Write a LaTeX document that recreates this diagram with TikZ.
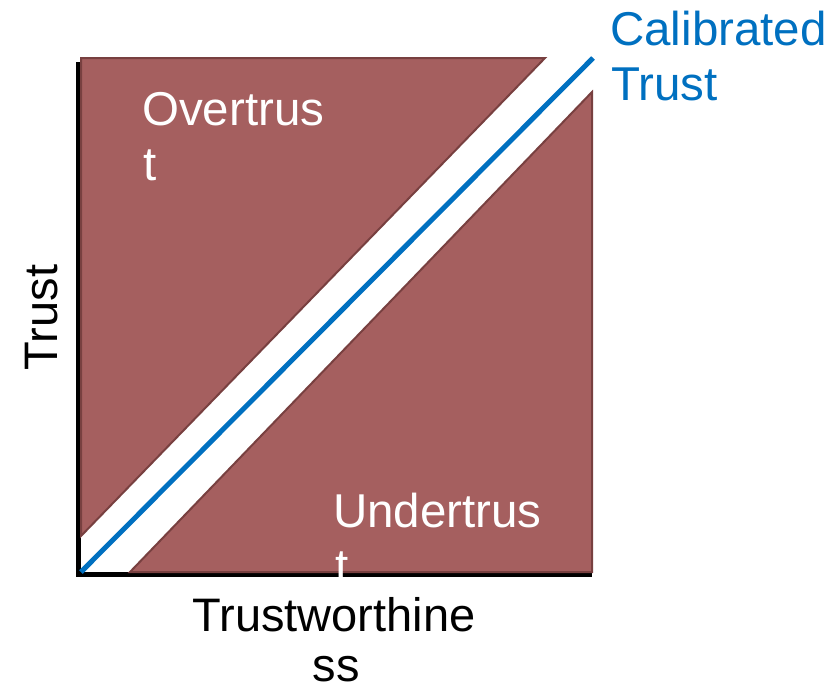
\documentclass[tikz,border=0pt]{standalone}
\usepackage{fontspec}
\setmainfont{Liberation Sans}
\definecolor{tri}{RGB}{165,95,95}
\definecolor{triedge}{RGB}{120,64,64}
\definecolor{calib}{RGB}{0,112,192}
\tikzset{
  region/.style={fill=tri, draw=triedge, line width=2pt, line join=miter},
  axisline/.style={draw=black, line width=5pt},
  calibline/.style={draw=calib, line width=5pt},
  lbl/.style={font=\fontsize{47.5}{55}\selectfont, inner sep=0pt, anchor=base west},
  lblc/.style={font=\fontsize{47}{55}\selectfont, inner sep=0pt, anchor=base},
}
\begin{document}
\begin{tikzpicture}[x=1pt,y=-1pt]
\useasboundingbox (0,0) rectangle (833,691);
% axes
\coordinate (top) at (78,62);
\coordinate (origin) at (78,574.5);
\coordinate (right) at (592,574.5);
\draw[axisline] (top) -- (origin) -- (right);
% regions
\draw[region] (81,58) -- (545,58) -- (81,536) -- cycle;
\draw[region] (130,572) -- (592,92) -- (592,572) -- cycle;
% calibrated line
\coordinate (c0) at (81,572);
\coordinate (c1) at (593,58);
\draw[calibline] (c0) -- (c1);
% labels
\node[lbl, text=white] (over1) at (142,125) {Overtrus};
\node[lbl, text=white] (over2) at (143,180) {t};
\node[lbl, text=white] (under1) at (333,527) {Undertrus};
\node[lbl, text=white] (under2) at (335,582) {t};
\node[lbl, text=calib] (cal1) at (610,45) {Calibrated};
\node[lbl, text=calib] (cal2) at (611,100) {Trust};
\node[lblc] (tw1) at (334,631) {Trustworthine};
\node[lblc] (tw2) at (336,681) {ss};
\node[lblc, rotate=90] (ytitle) at (57,317.5) {Trust};
\end{tikzpicture}
\end{document}
